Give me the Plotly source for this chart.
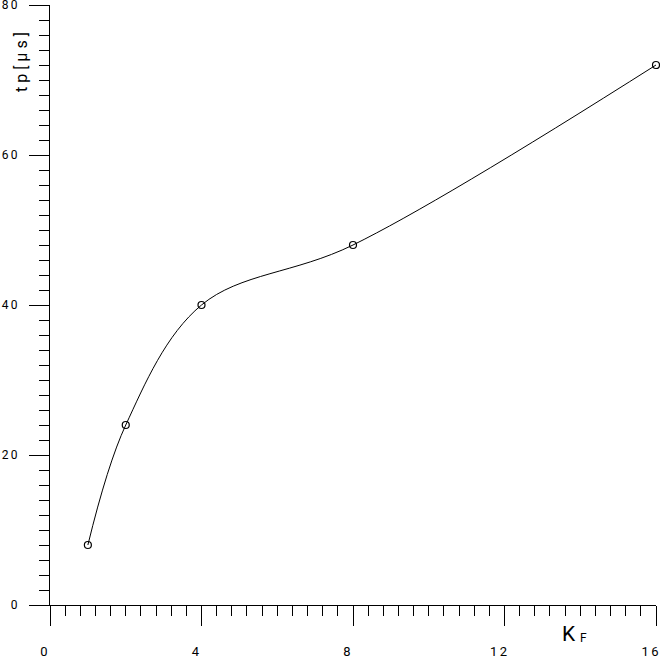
import plotly.graph_objects as go

kf = [1, 2, 4, 8, 16]
tp = [8, 24, 40, 48, 72]

x_tick_vals = [0, 4, 8, 12, 16]
x_tick_text = ["0", "4", "8", "1\u20092", "1\u20096"]
y_tick_vals = [0, 20, 40, 60, 80]
y_tick_text = ["0", "2\u20090", "4\u20090", "6\u20090", "8\u20090"]

FONT = "Liberation Sans Narrow, Roboto, DejaVu Sans, sans-serif"

fig = go.Figure()
fig.add_trace(go.Scatter(
    x=kf, y=tp, mode="lines+markers",
    line=dict(color="black", width=1, shape="spline", smoothing=1.0),
    marker=dict(symbol="circle-open", size=7, color="black", line=dict(width=1.2, color="black")),
    showlegend=False, cliponaxis=False,
))

fig.update_layout(
    width=660, height=661,
    margin=dict(l=50, r=4, t=5, b=56, autoexpand=False),
    paper_bgcolor="white", plot_bgcolor="white",
    font=dict(family=FONT, size=13, color="black"),
    xaxis=dict(
        range=[0, 16], showgrid=False, zeroline=False, automargin=False,
        showline=True, linecolor="black", linewidth=1,
        ticks="outside", ticklen=20, tickwidth=1, tickcolor="black",
        tickvals=x_tick_vals, ticktext=x_tick_text,
        ticklabelstandoff=14, ticklabelshift=-6, ticklabeloverflow="allow",
        minor=dict(dtick=0.4, ticks="outside", ticklen=10, tickwidth=1, tickcolor="black", showgrid=False),
    ),
    yaxis=dict(
        range=[0, 80], showgrid=False, zeroline=False, automargin=False,
        showline=True, linecolor="black", linewidth=1,
        ticks="outside", ticklen=20, tickwidth=1, tickcolor="black",
        tickvals=y_tick_vals, ticktext=y_tick_text, tickfont=dict(size=12),
        ticklabelstandoff=9, ticklabeloverflow="allow",
        minor=dict(dtick=2, ticks="outside", ticklen=10, tickwidth=1, tickcolor="black", showgrid=False),
    ),
    annotations=[
        dict(text="t p [ µ s ]", xref="paper", yref="paper",
             x=(22 - 50) / 606, y=(605 - 62) / 600, textangle=-90,
             showarrow=False, font=dict(family=FONT, size=16, color="black"),
             xanchor="center", yanchor="middle"),
        dict(text="K", xref="paper", yref="paper",
             x=(569 - 50) / 606, y=(605 - 634) / 600,
             showarrow=False, font=dict(family=FONT, size=21, color="black"),
             xanchor="center", yanchor="middle"),
        dict(text="F", xref="paper", yref="paper",
             x=(583 - 50) / 606, y=(605 - 638) / 600,
             showarrow=False, font=dict(family=FONT, size=12, color="black"),
             xanchor="center", yanchor="middle"),
    ],
)

fig.write_html(
    "out.html",
    config={"displayModeBar": False},
    post_script="document.body.style.margin='0';document.body.style.overflow='hidden';",
)
